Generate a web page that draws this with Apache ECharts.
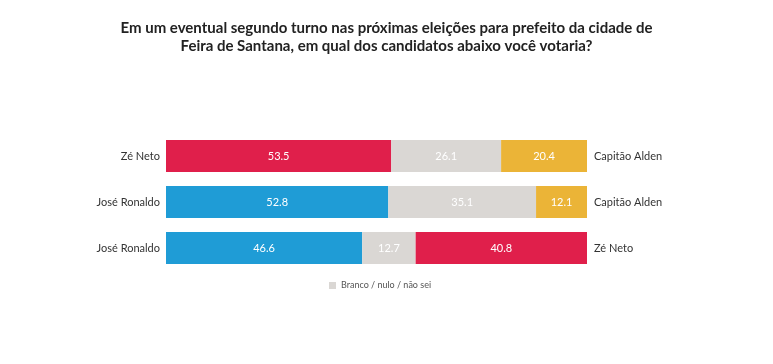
<!DOCTYPE html>
<html><head><meta charset="utf-8">
<script src="https://cdn.jsdelivr.net/npm/echarts@6/dist/echarts.min.js"></script>
<style>html,body{margin:0;padding:0;background:#fff}#c{width:773px;height:364px}</style>
</head><body><div id="c"></div>
<script>
var leftNames = ['Zé Neto', 'José Ronaldo', 'José Ronaldo'];
var rightNames = ['Capitão Alden', 'Capitão Alden', 'Zé Neto'];
var leftValues = [53.5, 52.8, 46.6];
var blankValues = [26.1, 35.1, 12.7];
var rightValues = [20.4, 12.1, 40.8];
var leftColors = ['#E01F4B', '#1F9CD6', '#1F9CD6'];
var rightColors = ['#EBB437', '#EBB437', '#E01F4B'];
var blankName = 'Branco / nulo / não sei';

var FONT = 'Lato';
function colored(vals, cols) {
  return vals.map(function (v, i) { return { value: v, itemStyle: { color: cols[i] } }; });
}
var lbl = { show: true, position: 'inside', color: '#fff', fontFamily: FONT, fontSize: 11, formatter: function (p) { return p.value.toFixed(1); } };

var chart = echarts.init(document.getElementById('c'));
chart.setOption({
  animation: false,
  title: {
    text: 'Em um eventual segundo turno nas próximas eleições para prefeito da cidade de\nFeira de Santana, em qual dos candidatos abaixo você votaria?',
    left: 'center', top: 19, padding: [0, 14, 0, 0],
    textStyle: { fontFamily: FONT, fontWeight: 'bold', fontSize: 15, color: '#222', lineHeight: 18 }
  },
  legend: {
    data: [blankName], left: 324, top: 276, itemWidth: 7, itemHeight: 7, itemGap: 4,
    icon: 'rect',
    textStyle: { fontFamily: FONT, fontSize: 9, color: '#555' }
  },
  grid: { left: 166, right: 186, top: 133, bottom: 93 },
  xAxis: { type: 'value', min: 0, max: 100, show: false },
  yAxis: [
    { type: 'category', data: leftNames, inverse: true, axisLine: { show: false }, axisTick: { show: false },
      axisLabel: { fontFamily: FONT, fontSize: 11, color: '#333', margin: 6 } },
    { type: 'category', data: rightNames, inverse: true, position: 'right', axisLine: { show: false }, axisTick: { show: false },
      axisLabel: { fontFamily: FONT, fontSize: 11, color: '#333', margin: 7 } }
  ],
  series: [
    { name: 'left', type: 'bar', stack: 's', barWidth: 32, data: colored(leftValues, leftColors), label: lbl },
    { name: blankName, type: 'bar', stack: 's', barWidth: 32, data: blankValues, itemStyle: { color: '#DAD7D4' }, label: lbl },
    { name: 'right', type: 'bar', stack: 's', barWidth: 32, data: colored(rightValues, rightColors), label: lbl }
  ]
});
</script></body></html>
